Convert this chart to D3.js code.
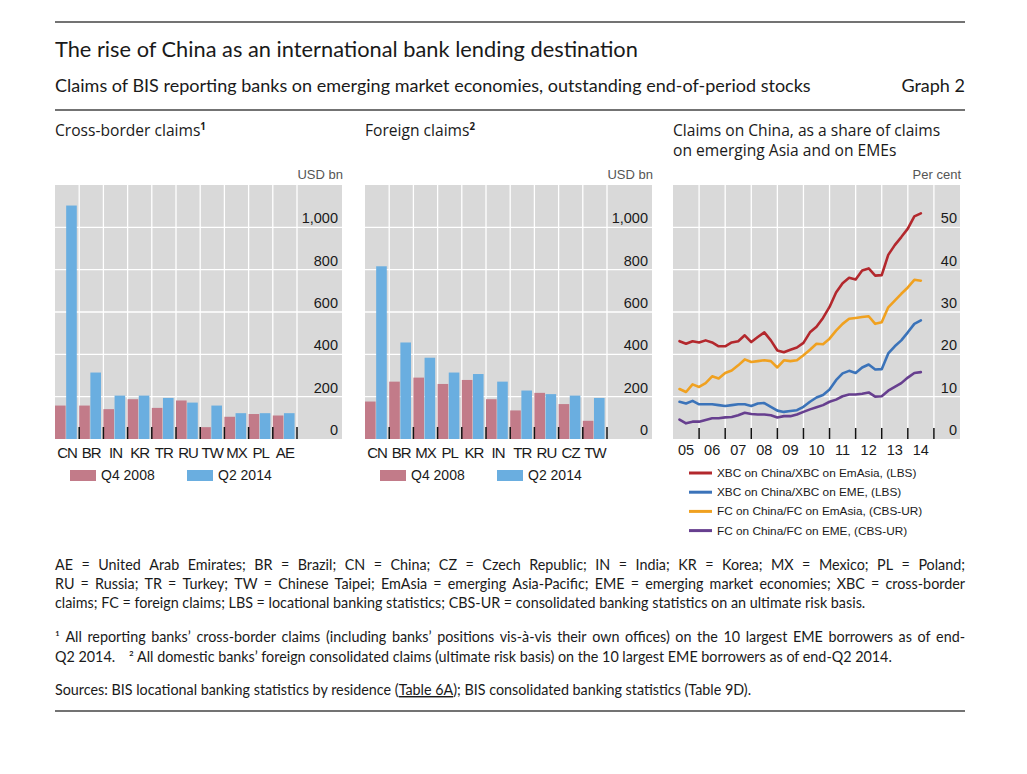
<!DOCTYPE html>
<meta charset="utf-8">
<script src="https://d3js.org/d3.v7.min.js"></script>
<style>
  body { margin: 0; background: #fff; }
  .txt { font-family: Lato, "Open Sans", sans-serif; fill: #1a1a1a; }
  .pt { font-family: "Open Sans", Lato, sans-serif; fill: #1a1a1a; }
  .ax { font-family: "Liberation Sans", Arial, sans-serif; fill: #1a1a1a; }
</style>
<div id="chart"></div>
<script>

// left panel: cross-border claims, USD bn
var xbcCountries = ["CN", "BR", "IN", "KR", "TR", "RU", "TW", "MX", "PL", "AE"];
var xbcQ42008 = [158, 158, 141, 188, 147, 182, 56, 105, 118, 111];
var xbcQ22014 = [1103, 314, 205, 205, 194, 172, 158, 122, 122, 122];

// middle panel: foreign claims, USD bn
var fcCountries = ["CN", "BR", "MX", "PL", "KR", "IN", "TR", "RU", "CZ", "TW"];
var fcQ42008 = [177, 271, 290, 260, 279, 188, 135, 218, 165, 86];
var fcQ22014 = [816, 456, 384, 314, 307, 271, 229, 212, 205, 194];

var barTicks = [0, 200, 400, 600, 800, 1000];
var barTickLabels = ["0", "200", "400", "600", "800", "1,000"];

// right panel: shares, per cent, quarterly
var quarters = [
  "2005Q1","2005Q2","2005Q3","2005Q4","2006Q1","2006Q2","2006Q3","2006Q4",
  "2007Q1","2007Q2","2007Q3","2007Q4","2008Q1","2008Q2","2008Q3","2008Q4",
  "2009Q1","2009Q2","2009Q3","2009Q4","2010Q1","2010Q2","2010Q3","2010Q4",
  "2011Q1","2011Q2","2011Q3","2011Q4","2012Q1","2012Q2","2012Q3","2012Q4",
  "2013Q1","2013Q2","2013Q3","2013Q4","2014Q1","2014Q2"];
var xbcEmAsia = [23.1,22.5,23.1,22.8,23.3,22.8,21.9,21.9,22.8,23.1,24.5,22.9,
  24.1,25.2,23.3,20.9,20.5,21.1,21.6,22.7,25.2,26.5,28.6,31.2,34.6,36.8,38.1,37.7,
  39.8,40.3,38.6,38.7,43.5,45.8,47.7,49.7,52.6,53.3];
var xbcEME = [8.8,8.4,9.0,8.2,8.2,8.2,8.0,7.8,8.0,8.2,8.2,7.8,
  8.4,8.5,7.6,6.7,6.4,6.6,6.8,7.6,8.8,9.8,10.4,11.7,13.9,15.5,16.1,15.6,
  16.9,17.6,16.4,16.5,20.2,21.9,23.3,25.2,27.2,28.0];
var fcEmAsia = [11.8,11.1,12.9,12.3,13.2,14.8,14.3,15.6,16.2,17.4,18.8,18.2,
  18.4,18.6,18.4,16.9,18.6,18.4,18.6,19.8,21.1,22.5,22.4,23.7,25.6,27.2,28.4,28.6,
  28.8,29.0,27.2,27.6,31.1,32.7,34.3,35.8,37.6,37.4];
var fcEME = [4.6,3.7,4.1,4.1,4.5,4.9,4.9,5.1,5.2,5.6,6.2,5.9,
  5.8,5.8,5.6,5.1,5.4,5.4,5.8,6.4,7.0,7.5,8.0,8.8,9.3,10.1,10.5,10.5,
  10.7,11.0,10.0,10.1,11.4,12.3,13.2,14.5,15.6,15.8];

var shareTicks = [0, 10, 20, 30, 40, 50];
var yearTicks = [2005, 2006, 2007, 2008, 2009, 2010, 2011, 2012, 2013, 2014];
var yearLabels = ["05", "06", "07", "08", "09", "10", "11", "12", "13", "14"];

var lineNames = ["XBC on China/XBC on EmAsia, (LBS)", "XBC on China/XBC on EME, (LBS)",
  "FC on China/FC on EmAsia, (CBS-UR)", "FC on China/FC on EME, (CBS-UR)"];

var pink = "#c27b89", blue = "#6aaee0", grey = "#d9d9d9";
var lineColors = ["#b3282d", "#3b73b9", "#f0a120", "#673f8f"];

var W = 1027, H = 774;
var svg = d3.select("#chart").append("svg")
    .attr("width", W).attr("height", H);

var L = 55, R = 965;
var top0 = 185, base = 439;

// fit font-size so a text spans a given width
function fit(sel, w) {
  var fs = parseFloat(sel.attr("font-size"));
  var len = sel.node().getComputedTextLength();
  var nfs = fs * w / len;
  sel.attr("font-size", nfs);
  return nfs;
}

// header
svg.append("line").attr("x1", L).attr("x2", R).attr("y1", 22).attr("y2", 22)
    .attr("stroke", "#444").attr("stroke-width", 1.6);
var title = svg.append("text").attr("class", "txt").attr("x", L).attr("y", 57)
    .attr("font-size", 19)
    .text("The rise of China as an international bank lending destination");
fit(title, 583);
var sub = svg.append("text").attr("class", "txt").attr("x", L).attr("y", 92)
    .attr("font-size", 14)
    .text("Claims of BIS reporting banks on emerging market economies, outstanding end-of-period stocks");
var subSize = fit(sub, 756);
svg.append("text").attr("class", "txt").attr("x", R).attr("y", 92)
    .attr("font-size", subSize).attr("text-anchor", "end").text("Graph 2");
svg.append("line").attr("x1", L).attr("x2", R).attr("y1", 110).attr("y2", 110)
    .attr("stroke", "#444").attr("stroke-width", 1.6);

// panel titles
var pt = svg.append("text").attr("class", "pt").attr("x", 673).attr("y", 136)
    .attr("font-size", 15).text("Claims on China, as a share of claims");
var ptSize = Math.min(fit(pt, 285), 15.6);
pt.attr("font-size", ptSize);
svg.append("text").attr("class", "pt").attr("x", 673).attr("y", 156)
    .attr("font-size", ptSize).text("on emerging Asia and on EMEs");
svg.append("text").attr("class", "pt").attr("x", L).attr("y", 136)
    .attr("font-size", ptSize).text("Cross-border claims")
  .append("tspan").attr("font-size", ptSize * 0.62).attr("dy", -6).attr("font-weight", 700).text("1");
svg.append("text").attr("class", "pt").attr("x", 365).attr("y", 136)
    .attr("font-size", ptSize).text("Foreign claims")
  .append("tspan").attr("font-size", ptSize * 0.62).attr("dy", -6).attr("font-weight", 700).text("2");

function barPanel(x0, cats, a, b) {
  var g = svg.append("g");
  var x = d3.scaleBand().domain(cats).range([x0, x0 + 242]);
  var sub = d3.scaleBand().domain([0, 1]).range([0, x.bandwidth() * 0.9]).paddingInner(0.05);
  var y = d3.scaleLinear().domain([0, 1200]).range([base, top0]);

  g.append("rect").attr("x", x0).attr("y", top0).attr("width", 287).attr("height", base - top0)
      .attr("fill", grey);
  g.selectAll(".hg").data(barTicks.slice(1)).enter().append("line")
      .attr("x1", x0).attr("x2", x0 + 287)
      .attr("y1", function(d) { return y(d); }).attr("y2", function(d) { return y(d); })
      .attr("stroke", "#fff").attr("stroke-width", 1.3);
  g.selectAll(".vg").data(cats).enter().append("line")
      .attr("x1", function(d) { return x(d) + x.bandwidth(); })
      .attr("x2", function(d) { return x(d) + x.bandwidth(); })
      .attr("y1", top0).attr("y2", base)
      .attr("stroke", "#fff").attr("stroke-width", 1.3);

  var rows = cats.map(function(c, i) { return {c: c, v: [a[i], b[i]]}; });
  g.selectAll(".grp").data(rows).enter().append("g")
      .attr("transform", function(d) { return "translate(" + x(d.c) + ",0)"; })
    .selectAll("rect").data(function(d) { return d.v; }).enter().append("rect")
      .attr("x", function(d, i) { return sub(i); })
      .attr("width", sub.bandwidth())
      .attr("y", function(d) { return y(d); })
      .attr("height", function(d) { return base - y(d); })
      .attr("fill", function(d, i) { return i ? blue : pink; });

  g.selectAll(".tk").data(cats).enter().append("line")
      .attr("x1", function(d) { return x(d) + x.bandwidth(); })
      .attr("x2", function(d) { return x(d) + x.bandwidth(); })
      .attr("y1", base - 12).attr("y2", base)
      .attr("stroke", "#111").attr("stroke-width", 1.5);

  g.selectAll(".yl").data(barTicks).enter().append("text").attr("class", "ax")
      .attr("x", x0 + 283).attr("y", function(d) { return y(d) - 4; })
      .attr("text-anchor", "end").attr("font-size", 14.5)
      .text(function(d, i) { return barTickLabels[i]; });
  g.append("text").attr("class", "ax").attr("x", x0 + 288).attr("y", 179)
      .attr("text-anchor", "end").attr("font-size", 13)
      .style("fill", "#555").text("USD bn");

  g.selectAll(".cl").data(cats).enter().append("text").attr("class", "ax")
      .attr("x", function(d) { return x(d) + x.bandwidth() / 2; })
      .attr("y", 458).attr("text-anchor", "middle").attr("font-size", 15)
      .attr("letter-spacing", -0.9)
      .text(function(d) { return d; });

  var leg = [["Q4 2008", pink, 15], ["Q2 2014", blue, 132]];
  leg.forEach(function(l) {
    g.append("rect").attr("x", x0 + l[2]).attr("y", 470).attr("width", 26).attr("height", 11)
        .attr("fill", l[1]);
    g.append("text").attr("class", "ax").attr("x", x0 + l[2] + 31).attr("y", 480)
        .attr("font-size", 14).text(l[0]);
  });
}

barPanel(L, xbcCountries, xbcQ42008, xbcQ22014);
barPanel(365, fcCountries, fcQ42008, fcQ22014);

// right panel: line chart
(function() {
  var x0 = 673, x1 = 960;
  var g = svg.append("g");
  var x = d3.scaleLinear().domain([2005, 2016]).range([x0, x1]);
  var y = d3.scaleLinear().domain([0, 60]).range([base, top0]);

  g.append("rect").attr("x", x0).attr("y", top0).attr("width", x1 - x0).attr("height", base - top0)
      .attr("fill", grey);
  g.selectAll(".hg").data(shareTicks.slice(1)).enter().append("line")
      .attr("x1", x0).attr("x2", x1)
      .attr("y1", function(d) { return y(d); }).attr("y2", function(d) { return y(d); })
      .attr("stroke", "#fff").attr("stroke-width", 1.3);
  g.selectAll(".vg").data(yearTicks).enter().append("line")
      .attr("x1", function(d) { return x(d + 1); }).attr("x2", function(d) { return x(d + 1); })
      .attr("y1", top0).attr("y2", base)
      .attr("stroke", "#fff").attr("stroke-width", 1.3);

  var qx = quarters.map(function(q) { return +q.slice(0, 4) + (+q.slice(5)) / 4; });
  var line = d3.line()
      .x(function(d, i) { return x(qx[i]); })
      .y(function(d) { return y(d); });
  [xbcEmAsia, xbcEME, fcEmAsia, fcEME].forEach(function(s, k) {
    g.append("path").datum(s).attr("d", line)
        .attr("fill", "none").attr("stroke", lineColors[k])
        .attr("stroke-width", 2.6).attr("stroke-linejoin", "round").attr("stroke-linecap", "round");
  });

  g.selectAll(".tk").data(yearTicks).enter().append("line")
      .attr("x1", function(d) { return x(d + 1); }).attr("x2", function(d) { return x(d + 1); })
      .attr("y1", base - 11).attr("y2", base)
      .attr("stroke", "#111").attr("stroke-width", 1.5);

  g.selectAll(".yl").data(shareTicks).enter().append("text").attr("class", "ax")
      .attr("x", 957).attr("y", function(d) { return y(d) - 4; })
      .attr("text-anchor", "end").attr("font-size", 14.5)
      .text(function(d) { return d; });
  g.append("text").attr("class", "ax").attr("x", 961).attr("y", 179)
      .attr("text-anchor", "end").attr("font-size", 13).style("fill", "#555").text("Per cent");

  g.selectAll(".xl").data(yearTicks).enter().append("text").attr("class", "ax")
      .attr("x", function(d) { return x(d + 0.5); }).attr("y", 455)
      .attr("text-anchor", "middle").attr("font-size", 14.5)
      .text(function(d, i) { return yearLabels[i]; });

  lineNames.forEach(function(n, k) {
    var ly = 473 + k * 19.2;
    g.append("line").attr("x1", 689).attr("x2", 712).attr("y1", ly).attr("y2", ly)
        .attr("stroke", lineColors[k]).attr("stroke-width", 3);
    g.append("text").attr("class", "ax").attr("x", 717).attr("y", ly + 4)
        .attr("font-size", 11.8).text(n);
  });
})();

// notes
var note3 = svg.append("text").attr("class", "txt").attr("x", L).attr("y", 608)
    .attr("font-size", 13)
    .text("claims; FC = foreign claims; LBS = locational banking statistics; CBS-UR = consolidated banking statistics on an ultimate risk basis.");
var noteSize = fit(note3, 811);

function justify(str, yy) {
  var g = svg.append("g");
  var words = str.split(" ");
  var nodes = words.map(function(w) {
    return g.append("text").attr("class", "txt").attr("y", yy).attr("font-size", noteSize).text(w);
  });
  var widths = nodes.map(function(n) { return n.node().getComputedTextLength(); });
  var gap = (R - L - d3.sum(widths)) / (words.length - 1);
  var xx = L;
  nodes.forEach(function(n, i) { n.attr("x", xx); xx += widths[i] + gap; });
}

justify("AE = United Arab Emirates; BR = Brazil; CN = China; CZ = Czech Republic; IN = India; KR = Korea; MX = Mexico; PL = Poland;", 570);
justify("RU = Russia; TR = Turkey; TW = Chinese Taipei; EmAsia = emerging Asia-Pacific; EME = emerging market economies; XBC = cross-border", 589);
justify("\u00b9 All reporting banks\u2019 cross-border claims (including banks\u2019 positions vis-\u00e0-vis their own offices) on the 10 largest EME borrowers as of end-", 642);

var fn2 = svg.append("text").attr("class", "txt").attr("x", L).attr("y", 662).attr("font-size", noteSize);
fn2.append("tspan").text("Q2 2014.");
fn2.append("tspan").attr("dx", 14).text("\u00b2 All domestic banks\u2019 foreign consolidated claims (ultimate risk basis) on the 10 largest EME borrowers as of end-Q2 2014.");

var src = svg.append("text").attr("class", "txt").attr("x", L).attr("y", 695).attr("font-size", noteSize);
src.append("tspan").text("Sources: BIS locational banking statistics by residence (");
src.append("tspan").style("text-decoration", "underline").text("Table 6A");
src.append("tspan").text("); BIS consolidated banking statistics (Table 9D).");

svg.append("line").attr("x1", L).attr("x2", R).attr("y1", 711).attr("y2", 711)
    .attr("stroke", "#444").attr("stroke-width", 1.6);

</script>
